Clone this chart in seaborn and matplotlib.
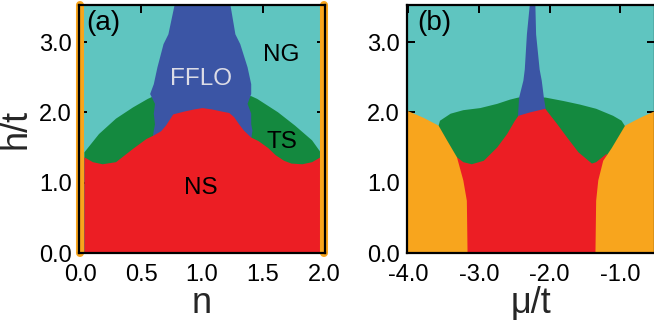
import matplotlib
matplotlib.use("Agg")
import matplotlib.pyplot as plt
import seaborn as sns

# colours of the phases
NG_C = "#5fc5c0"
FFLO_C = "#3b55a5"
TS_C = "#14893f"
NS_C = "#ec1e24"
OR_C = "#f8a51d"

# ---- panel (a): h/t vs n ----
a_red_n = [0.03, 0.10, 0.18, 0.29, 0.43, 0.54, 0.60, 0.66, 0.70, 0.76, 0.85, 0.93, 1.00, 1.08,
           1.16, 1.22, 1.26, 1.30, 1.34, 1.40, 1.46, 1.54, 1.60, 1.67, 1.73, 1.82, 1.90, 1.97]
a_red_h = [1.37, 1.30, 1.27, 1.30, 1.49, 1.63, 1.68, 1.74, 1.82, 1.98, 2.02, 2.05, 2.07, 2.05,
           2.02, 2.00, 1.94, 1.84, 1.75, 1.65, 1.60, 1.50, 1.40, 1.32, 1.28, 1.27, 1.30, 1.37]

a_green_n = [0.03, 0.15, 0.29, 0.43, 0.55, 0.60, 1.40, 1.45, 1.62, 1.76, 1.90, 1.97]
a_green_h = [1.44, 1.70, 1.92, 2.08, 2.20, 2.24, 2.24, 2.20, 2.01, 1.82, 1.61, 1.44]

a_blue_h = [1.63, 1.75, 1.84, 1.99, 2.13, 2.27, 2.41, 2.65, 2.98, 3.12, 3.53]
a_blue_left = [0.59, 0.60, 0.61, 0.60, 0.61, 0.57, 0.60, 0.63, 0.68, 0.72, 0.77]
a_blue_right = [1.40, 1.41, 1.40, 1.40, 1.37, 1.40, 1.40, 1.37, 1.31, 1.27, 1.23]

a_edges = [0.0, 2.0]
a_xticks = [0.0, 0.5, 1.0, 1.5, 2.0]

# ---- panel (b): h/t vs mu/t ----
b_orange_l_mu = [-4.02, -3.79, -3.58, -3.46, -3.32, -3.23, -3.18, -3.17]
b_orange_l_h = [2.03, 1.93, 1.82, 1.61, 1.37, 1.04, 0.75, 0.0]
b_orange_r_mu = [-1.36, -1.35, -1.32, -1.25, -1.13, -0.94, -0.73, -0.51]
b_orange_r_h = [0.0, 0.75, 1.04, 1.32, 1.50, 1.82, 1.93, 2.03]

b_red_mu = [-3.32, -3.23, -3.11, -2.94, -2.75, -2.61, -2.50, -2.45, -2.28, -2.07,
            -1.90, -1.76, -1.60, -1.41, -1.35, -1.20]
b_red_h = [1.37, 1.30, 1.27, 1.32, 1.51, 1.70, 1.89, 1.96, 2.01, 2.06,
           1.84, 1.65, 1.44, 1.28, 1.30, 1.42]

b_green_mu = [-3.58, -3.56, -3.41, -3.23, -2.99, -2.75, -2.57, -2.45, -2.07, -1.81,
              -1.58, -1.35, -1.11, -0.99, -0.94]
b_green_h = [1.82, 1.89, 1.99, 2.04, 2.07, 2.13, 2.19, 2.22, 2.22, 2.17,
             2.12, 2.06, 1.96, 1.89, 1.81]

b_blue_h = [1.90, 2.22, 2.46, 2.62, 3.12, 3.53]
b_blue_left = [-2.46, -2.44, -2.38, -2.36, -2.33, -2.29]
b_blue_right = [-2.04, -2.09, -2.12, -2.15, -2.20, -2.21]

b_xticks = [-4.0, -3.0, -2.0, -1.0]
h_ticks = [0.0, 1.0, 2.0, 3.0]

sns.set_theme(style="ticks", rc={
    "xtick.direction": "in", "ytick.direction": "in",
    "xtick.top": True, "ytick.right": True,
    "xtick.major.size": 5.5, "ytick.major.size": 5.5,
    "xtick.major.width": 1.4, "ytick.major.width": 1.4,
    "xtick.major.pad": 8, "ytick.major.pad": 5,
    "axes.linewidth": 1.6, "axes.edgecolor": "black",
    "xtick.color": "black", "ytick.color": "black",
    "xtick.labelsize": 17, "ytick.labelsize": 17,
    "axes.labelsize": 26, "text.color": "black",
})
plt.rcParams["font.family"] = ["Liberation Sans", "DejaVu Sans"]

fig = plt.figure(figsize=(6.54, 3.2), dpi=100)
ax_a = fig.add_axes([79 / 654, 67 / 320, 246 / 654, 248 / 320])
ax_b = fig.add_axes([407 / 654, 67 / 320, 248 / 654, 248 / 320])

# panel (a)
ax_a.set_facecolor(NG_C)
ax_a.fill_between(a_green_n, 0, a_green_h, color=TS_C, lw=0)
ax_a.fill_betweenx(a_blue_h, a_blue_left, a_blue_right, color=FFLO_C, lw=0)
ax_a.fill_between(a_red_n, 0, a_red_h, color=NS_C, lw=0)
for n0 in a_edges:
    ax_a.axvline(n0, color=OR_C, lw=5.8, clip_on=False, zorder=2)
ax_a.set_xlim(-0.01, 2.01)
ax_a.set_ylim(0, 3.53)
ax_a.set_xticks(a_xticks, [f"{v:.1f}" for v in a_xticks])
ax_a.set_yticks(h_ticks, [f"{v:.1f}" for v in h_ticks])
ax_a.set_xlabel("n", labelpad=0)
ax_a.set_ylabel("h/t")
ax_a.yaxis.set_label_coords(-0.185, 0.5)
ax_a.text(0.05, 3.27, "(a)", fontsize=20, ha="left", va="center")
ax_a.text(0.99, 2.48, "FFLO", fontsize=17.5, color="#dcdce6", ha="center", va="center")
ax_a.text(1.65, 2.82, "NG", fontsize=17.5, ha="center", va="center")
ax_a.text(1.66, 1.58, "TS", fontsize=17.5, ha="center", va="center")
ax_a.text(0.99, 0.93, "NS", fontsize=17.5, ha="center", va="center")

# panel (b)
ax_b.set_facecolor(NG_C)
ax_b.fill_between(b_green_mu, 0, b_green_h, color=TS_C, lw=0)
ax_b.fill_betweenx(b_blue_h, b_blue_left, b_blue_right, color=FFLO_C, lw=0)
ax_b.fill_between(b_red_mu, 0, b_red_h, color=NS_C, lw=0)
ax_b.fill_between(b_orange_l_mu, 0, b_orange_l_h, color=OR_C, lw=0)
ax_b.fill_between(b_orange_r_mu, 0, b_orange_r_h, color=OR_C, lw=0)
ax_b.set_xlim(-4.02, -0.51)
ax_b.set_ylim(0, 3.53)
ax_b.set_xticks(b_xticks, [f"{v:.1f}" for v in b_xticks])
ax_b.set_yticks(h_ticks, [f"{v:.1f}" for v in h_ticks])
ax_b.set_xlabel("\u03bc/t", labelpad=0)
ax_b.text(-3.87, 3.27, "(b)", fontsize=20, ha="left", va="center")

fig.savefig("out.png", dpi=100)
